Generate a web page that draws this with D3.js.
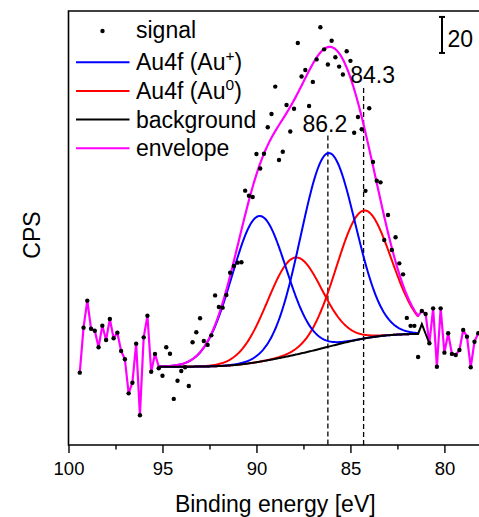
<!DOCTYPE html>
<html>
<head>
<meta charset="utf-8">
<script src="https://cdn.jsdelivr.net/npm/d3@7/dist/d3.min.js"></script>
<style>
  html, body { margin: 0; padding: 0; background: #fff; }
  svg { display: block; font-family: "Liberation Sans", Arial, sans-serif; }
</style>
</head>
<body>
<svg id="chart" width="479" height="517"></svg>
<script>
// ---- measured Au4f spectrum (CPS, arbitrary offset), 0.2 eV step from 99.4 eV ----
const energyStart = 99.4;
const energyStep = 0.2;
const signal = [
  40.2, 65.2, 80.2, 64.6, 63.5, 54.3, 66.3, 58.3, 70.0, 59.3,
  62.4, 52.2, 47.6, 28.7, 34.6, 56.3, 16.5, 59.8, 71.8, 40.7,
  50.6, 42.6, 38.5, 54.3, 50.7, 25.6, 35.7, 41.1, 43.2, 32.8,
  57.1, 62.6, 70.4, 57.8, 55.6, 60.9, 83.1, 76.7, 76.3, 83.3,
  95.7, 99.4, 101.3, 101.5, 141.3, 138.5, 137.8, 161.7, 153.6, 161.8,
  176.5, 183.9, 199.1, 158.3, 162.9, 188.9, 174.2, 186.8, 223.3, 204.7,
  208.3, 188.3, 201.7, 214.2, 232.1, 219.8, 211.4, 224.6, 215.4, 210.2,
  205.8, 218.7, 213.4, 173.5, 182.2, 175.4, 141.2, 187.1, 157.2, 146.8,
  145.9, 113.9, 127.8, 108.3, 115.4, 100.9, 94.8, 70.6, 66.2, 66.2,
  48.9, 74.4, 72.8, 56.5, 75.9, 43.5, 75.9, 51.3, 62.1, 50.6,
  50.0, 52.8, 63.9, 60.2, 43.2, 57.4, 62.1
];

// ---- fit model: Shirley background + Gaussian doublets ----
const fitRange = [95.2, 81.4];          // eV, high-BE end to low-BE end
const backgroundEnds = [43.5, 61.7];     // background level at the two ends
const backgroundTailE = [81.2, 81.0, 80.8];
const backgroundTail = [67.2, 61.8, 56.5];
const auPlusCenters = [89.87, 86.2];     // Au4f5/2, Au4f7/2 of Au+
const auPlusHeights = [81.0, 107.6];
const auPlusFwhm = [3.41, 3.41];
const au0Centers = [87.97, 84.3];        // Au4f5/2, Au4f7/2 of Au0
const au0Heights = [54.0, 71.1];
const au0Fwhm = [3.41, 3.41];

// ---- annotations and axes ----
const markEnergies = [86.2, 84.3];
const markLabels = ["86.2", "84.3"];
const xMajorTicks = [100, 95, 90, 85, 80];
const xMinorTicks = [97.5, 92.5, 87.5, 82.5];
const scaleBarValue = 20;
const legendLabels = ["signal", "Au4f (Au|+|)", "Au4f (Au|0|)", "background", "envelope"];
const legendColors = ["#000000", "#0000ff", "#ff0000", "#000000", "#ff00ff"];

// ---------------------------------------------------------------
const svg = d3.select("#chart");
const mLeft = 68.5, mTop = 11, mBottom = 445, mRight = 482;
const labelFont = 23;

const x = d3.scaleLinear().domain([100, 78]).range([mLeft, mRight]);
const y = d3.scaleLinear().domain([0, 241.1]).range([mBottom, mTop]);

const points = signal.map((v, i) => [+(energyStart - i * energyStep).toFixed(2), v]);

// fine sampling grid for the fitted curves
const fineStep = 0.05;
const nFine = Math.round((fitRange[0] - fitRange[1]) / fineStep);
const fineE = d3.range(nFine + 1).map(i => +(fitRange[0] - i * fineStep).toFixed(3));

const gauss = (e, c, h, w) => h * Math.exp(-4 * Math.LN2 * (e - c) * (e - c) / (w * w));
const peaks = [];
auPlusCenters.forEach((c, i) => peaks.push({ c, h: auPlusHeights[i], w: auPlusFwhm[i], color: "#0000ff" }));
au0Centers.forEach((c, i) => peaks.push({ c, h: au0Heights[i], w: au0Fwhm[i], color: "#ff0000" }));

const peakSum = fineE.map(e => d3.sum(peaks, p => gauss(e, p.c, p.h, p.w)));

// Shirley background: step proportional to the peak area on the low-BE side
const cum = new Array(fineE.length).fill(0);
for (let j = fineE.length - 2; j >= 0; j--) {
  cum[j] = cum[j + 1] + 0.5 * (peakSum[j] + peakSum[j + 1]) * fineStep;
}
const [bL, bR] = backgroundEnds;
const bg = cum.map(a => bR + (bL - bR) * a / cum[0]);

const line = d3.line().x(d => x(d[0])).y(d => y(d[1]));

// clip region for the plot interior
svg.append("defs").append("clipPath").attr("id", "plotClip")
  .append("rect").attr("x", mLeft).attr("y", mTop).attr("width", mRight - mLeft).attr("height", mBottom - mTop);
const plot = svg.append("g").attr("clip-path", "url(#plotClip)");

// dashed markers at the Au4f7/2 positions
const markTops = [172, 198.3];
const labelBase = [174, 201.3];
const labelDx = [-3, 9];
markEnergies.forEach((e, i) => {
  plot.append("line")
    .attr("x1", x(e)).attr("x2", x(e))
    .attr("y1", y(markTops[i])).attr("y2", mBottom)
    .attr("stroke", "#000").attr("stroke-width", 1.3).attr("stroke-dasharray", "5,3");
  svg.append("text")
    .attr("x", x(e) + labelDx[i]).attr("y", y(labelBase[i]))
    .attr("text-anchor", "middle").attr("font-size", labelFont).attr("fill", "#000")
    .text(markLabels[i]);
});

// background
const bgPts = fineE.map((e, j) => [e, bg[j]]).concat(backgroundTailE.map((e, i) => [e, backgroundTail[i]]));

// components (red first, blue above)
peaks.slice().reverse().forEach(p => {
  plot.append("path")
    .attr("d", line(fineE.map((e, j) => [e, bg[j] + gauss(e, p.c, p.h, p.w)])))
    .attr("fill", "none").attr("stroke", p.color).attr("stroke-width", 2);
});

// envelope: measured points outside the fit window, model inside
const envPts = points.filter(d => d[0] > fitRange[0] + 1e-6)
  .concat(fineE.map((e, j) => [e, bg[j] + peakSum[j]]))
  .concat(points.filter(d => d[0] < fitRange[1] - 1e-6));
plot.append("path").attr("d", line(envPts))
  .attr("fill", "none").attr("stroke", "#ff00ff").attr("stroke-width", 2.2)
  .attr("stroke-linejoin", "round");

plot.append("path").attr("d", line(bgPts))
  .attr("fill", "none").attr("stroke", "#000").attr("stroke-width", 2);

// measured points
plot.selectAll("circle.sig").data(points).join("circle")
  .attr("class", "sig")
  .attr("cx", d => x(d[0])).attr("cy", d => y(d[1])).attr("r", 2.2).attr("fill", "#000");

// frame
svg.append("path")
  .attr("d", `M${mRight + 5},${mTop}H${mLeft}V${mBottom}H${mRight + 5}`)
  .attr("fill", "none").attr("stroke", "#000").attr("stroke-width", 1.6);

// bottom axis with minor ticks
const axisG = svg.append("g").attr("transform", `translate(0,${mBottom})`)
  .call(d3.axisBottom(x).tickValues(xMajorTicks).tickSize(8).tickPadding(9).tickFormat(d3.format("d")));
axisG.select(".domain").remove();
axisG.selectAll("text").attr("font-size", 18.5).attr("font-family", "Liberation Sans, Arial, sans-serif").attr("fill", "#000");
axisG.selectAll("line").attr("stroke-width", 1.4);
const minorG = svg.append("g").attr("transform", `translate(0,${mBottom})`)
  .call(d3.axisBottom(x).tickValues(xMinorTicks).tickSize(4.5).tickFormat(""));
minorG.select(".domain").remove();
minorG.selectAll("line").attr("stroke-width", 1.4);

// axis titles
svg.append("text").attr("x", (mLeft + mRight) / 2).attr("y", 511.5)
  .attr("text-anchor", "middle").attr("font-size", labelFont).attr("fill", "#000")
  .text("Binding energy [eV]");
svg.append("text").attr("transform", "translate(39.5,235) rotate(-90)")
  .attr("text-anchor", "middle").attr("font-size", labelFont).attr("fill", "#000")
  .text("CPS");

// intensity scale bar
const barX = 442, barLow = 217.8;
const bar = svg.append("g").attr("stroke", "#000").attr("stroke-width", 2);
bar.append("line").attr("x1", barX).attr("x2", barX).attr("y1", y(barLow)).attr("y2", y(barLow + scaleBarValue));
bar.append("line").attr("x1", barX - 3).attr("x2", barX + 3).attr("y1", y(barLow)).attr("y2", y(barLow));
bar.append("line").attr("x1", barX - 3).attr("x2", barX + 3).attr("y1", y(barLow + scaleBarValue)).attr("y2", y(barLow + scaleBarValue));
svg.append("text").attr("x", barX + 5.5).attr("y", 46.5)
  .attr("font-size", labelFont).attr("fill", "#000").text(String(scaleBarValue));

// legend
const legendRowY = [31, 62.3, 91, 119.5, 148.3];
legendLabels.forEach((lab, i) => {
  const ry = legendRowY[i];
  if (i === 0) {
    svg.append("circle").attr("cx", 102.5).attr("cy", ry).attr("r", 2.2).attr("fill", "#000");
  } else {
    svg.append("line").attr("x1", 76).attr("x2", 129.5).attr("y1", ry).attr("y2", ry)
      .attr("stroke", legendColors[i]).attr("stroke-width", 2);
  }
  const t = svg.append("text").attr("x", 136).attr("y", ry + (i === 0 ? 6.5 : 8))
    .attr("font-size", labelFont).attr("fill", "#000");
  const parts = lab.split("|");
  if (parts.length === 1) {
    t.text(lab);
  } else {
    t.append("tspan").text(parts[0]);
    t.append("tspan").attr("font-size", 15.5).attr("dy", -9).text(parts[1]);
    t.append("tspan").attr("font-size", labelFont).attr("dy", 9).text(parts[2]);
  }
});
</script>
</body>
</html>
